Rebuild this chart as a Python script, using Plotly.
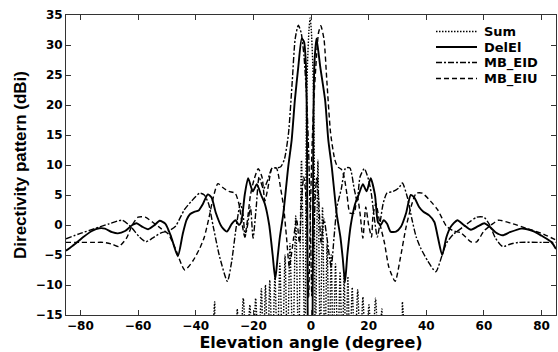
import plotly.graph_objects as go

# ---- Sum pattern (dotted) ----
sum_deg = [-34.3, -33.4, -32.5,
           -26.6, -25.6, -24.6, -23.5, -22.3, -21.2, -20.2, -19.2, -18.2, -17.2,
           -16.5, -15.8, -15.0, -14.3, -13.4, -12.5, -11.7, -10.8, -9.9, -9.0,
           -8.2, -7.3, -6.3, -5.3, -4.3, -3.3, -2.1, -1.6, -1.2, -0.7, -0.3,
           0.1, 0.6, 1.0, 1.5, 2.4, 3.2, 4.0, 4.8, 5.6, 6.3, 7.0, 7.7, 8.5,
           9.3, 10.1, 10.8, 11.5, 12.1, 12.8, 13.5, 14.3, 15.2, 16.2, 17.1,
           18.0, 19.0, 20.1, 21.2, 22.4, 23.5, 24.6, 25.6,
           30.8, 31.7, 32.6]
sum_db = [-22, -12.8, -22,
          -22, -14.0, -22, -12.2, -22, -13.3, -22, -12.2, -22, -10.6,
          -22, -10.0, -22, -9.2, -22, -8.3, -22, -6.4, -22, -5.0,
          -22, -3.1, -22, 1.5, -22, 10.8, -22, 18.0, 27.0, 32.5, 34.5,
          32.5, 27.0, 18.0, -22, 10.8, -22, 3.0, -22, -3.1, -22, -5.0, -22, -6.5,
          -22, -7.8, -22, -8.3, -22, -8.6, -22, -10.4, -22, -10.8, -22,
          -12.0, -22, -13.3, -22, -12.2, -22, -14.0, -22,
          -22, -12.8, -22]

# ---- Difference pattern DelEl (solid) ----
del_deg = [-85, -82, -79, -76, -73.5, -71.5, -69, -67, -64.5, -62, -60.5, -58.5,
           -56.5, -54.5, -52.5, -50.5, -48.5, -46.2, -44.5, -43.2, -42, -40.5,
           -39, -37.5, -35.8, -34.5, -33, -31, -29.2, -27.5, -26.2, -25, -24.2,
           -23, -21.8, -20.2, -18.8, -17.3, -16, -14.5, -13.3, -12.4, -11.6,
           -10.8, -9.6, -7.9, -6.7, -5.6, -4.4, -3.2, -2.4, -1.8, -1.45, -1.3,
           -1.15, -0.9,
           0.3, 0.55, 0.7, 0.85, 1.2, 1.9, 3.2, 4.9, 6.0, 7.2, 8.9, 10.2, 11.0,
           11.8, 12.6, 13.8, 15.3, 16.5, 18.0, 19.3, 20.7, 22.2, 23.2, 24.2,
           25.2, 26.4, 27.6, 29.5, 31.2, 33.0, 34.6, 35.8, 37.5, 39.0, 41.0,
           42.8, 44.0, 45.5, 47.0, 48.5, 50.8, 53.0, 55.5, 58.0, 60.1, 62.0,
           64.0, 66.5, 69.0, 72.9, 75.0, 77.5, 80.0, 83.3, 85]
del_db = [-4.3, -3.2, -2.0, -1.0, -0.55, -0.6, -1.2, -1.4, -1.0, 0.0, 0.3, -0.3,
          -0.7, -0.1, 0.7, 0.2, -2.0, -5.2, -1.5, 0.8, 1.8, 2.2,
          2.4, 3.5, 5.1, 4.6, 2.0, -0.3, -1.1, 0.2, 0.8, 0.0, 0.5,
          5.0, 7.8, 5.6, 6.8, 5.0, 3.5, 0.0, -5.0, -9.0, -5.5,
          -2.0, 1.9, 9.7, 14.2, 20.8, 26.4, 31.1, 30.5, 27.0, 18.0, 4.0,
          -15.0, -25.0,
          -25.0, -15.0, 4.0, 18.0, 27.0, 31.1, 26.4, 20.8, 14.2, 9.7, 1.9, -2.0, -5.5,
          -9.5, -5.0, 0.0, 3.5, 5.0, 6.8, 5.6, 7.8, 5.0, 0.5, 0.0,
          0.8, 0.2, -1.1, -1.1, -0.3, 2.0, 5.0, 4.6, 3.0, 2.2, 1.6,
          0.5, -2.0, -5.0, -2.0, -0.3, 0.8, 0.0, -0.8, -0.2, 0.3, -0.3,
          -1.2, -1.7, -1.2, -0.6, -0.7, -1.1, -1.8, -2.8, -4.0]

# ---- Multi-beam, downward beam MB_EID (dash-dot) ----
eid_deg = [-85, -80, -75, -70, -65.5, -62.5, -59.5, -57.3, -55, -52, -49.5, -47,
           -44, -41.6, -38.6, -37, -35.5, -33.9, -31.7, -29.0, -27.5, -26,
           -24.5, -23.5, -22.9, -22, -21, -20.1, -19, -18, -16.5, -15, -13.5,
           -12, -10.5, -9.2, -7.8, -6.5, -5.5, -4.4, -3.4, -2.4, -1.5, -0.8,
           -0.2, 0.3, 0.8, 1.5, 2.0, 2.6, 3.5, 4.5, 5.5, 7.0, 8.0, 9.0, 10.5,
           12.0, 13.5, 15.0, 16.0, 17.0, 18.5, 20.0, 21.0, 22.0, 23.0, 24.0,
           25.0, 26.3, 28.5, 30.5, 31.7, 33.5, 35.0, 36.5, 38.0, 40.5, 43.3,
           45.5, 47.0, 49.5, 52.0, 55.0, 57.5, 60.0, 62.0, 64.0, 66.5, 69.0,
           72.0, 80.0, 85.0]
eid_db = [-2.3, -1.4, -0.6, 0.2, 0.8, -0.3, -2.0, -2.8, -2.2, -1.3, -1.0, -0.2,
          2.5, 3.9, 5.3, 5.0, 3.5, -0.3, -5.3, -9.4, -6.0, -0.5,
          3.6, 1.5, -2.0, 0.0, 3.0, -2.2, 3.0, 8.0, 6.0, 7.5, 9.5,
          9.5, 9.7, 11.0, 15.3, 24.0, 31.0, 33.3, 32.0, 28.0, 21.0, 12.0,
          0.0, -12.0, -5.0, 5.0, 8.0, 5.0, -3.0, 1.0, -2.0, -7.0, -2.0, 3.0, 6.0,
          9.5, 9.5, 6.0, 4.0, 8.0, 9.4, 7.5, 5.0, 1.0, -2.0, 0.5,
          3.5, 5.3, 5.6, 6.2, 7.0, 4.5, 1.0, -2.0, -3.8, -6.0, -7.8,
          -5.0, -3.0, -1.5, -0.6, 0.5, 1.3, 1.3, 0.0, -2.2, -3.6, -3.2,
          -2.9, -2.9, -2.9]

# ---- Multi-beam, upward beam MB_EIU (dashed) ----
eiu_deg = [-85, -80, -75, -72, -69, -66.7, -64, -62, -60, -57.5, -55, -52,
           -49.5, -47, -43.8, -41, -38.5, -37, -35.5, -33.8, -32.3, -30.5,
           -28.5, -26.3, -25, -24, -23, -22, -21, -19.8, -18.3, -17, -16, -15,
           -13.5, -12, -10.5, -9.5, -8.5, -7.5, -6, -5, -4, -3.2, -2.5, -1.8,
           -1.2, -0.8, -0.3, 0.3, 1.0, 1.9, 2.6, 3.4, 4.5, 5.5, 6.8, 8.2, 9.2,
           10.5, 11.5, 12.5, 13.5, 15, 16, 17, 18, 19, 20, 21, 21.5, 22.5, 24,
           25.5, 27, 29.2, 31, 33, 35, 36.5, 38.6, 41.6, 44, 47, 49.5, 52,
           55.5, 57.5, 60, 62.5, 65, 70, 75, 80, 85]
eiu_db = [-2.9, -2.9, -2.9, -2.9, -3.2, -3.6, -2.2, 0.0, 1.3, 1.3, 0.5, -0.6,
          -1.5, -4.0, -7.5, -6.0, -3.8, -2.0, 1.0, 4.8, 6.9, 6.2,
          5.6, 5.3, 3.5, 0.5, -2.0, 1.0, 5.0, 7.5, 9.4, 8.0, 4.0, 6.0,
          9.5, 9.5, 6.0, 3.0, -2.0, -7.0, -2.0, 1.0, -3.0, 5.0, 8.0, 5.0,
          -5.0, -12.0, 0.0, 12.0, 21.0, 28.0, 32.0, 33.2, 31.0, 24.0, 15.3, 11.0, 9.7,
          9.3, 8.0, 5.0, 2.0, 2.0, 5.0, 2.0, -2.2, 3.0, 0.0, -2.0, 1.5, 3.6, 0.0,
          -3.0, -7.0, -9.4, -5.5, -0.3, 3.5, 5.3, 5.3, 3.9, 2.5, -0.2, -1.0, -1.3,
          -2.8, -2.8, -1.0, 0.0, 0.8, 0.2, -0.6, -1.4, -2.5]

x_ticks = [-80, -60, -40, -20, 0, 20, 40, 60, 80]
y_ticks = [-15, -10, -5, 0, 5, 10, 15, 20, 25, 30, 35]

DOT = "1.5px,1.5px"
DASH = "5px,3px"
DASHDOT = "6px,2px,2px,2px"

fig = go.Figure()
series = [
    ("Sum", sum_deg, sum_db, DOT, 1.4),
    ("DelEl", del_deg, del_db, "solid", 1.9),
    ("MB_EID", eid_deg, eid_db, DASHDOT, 1.4),
    ("MB_EIU", eiu_deg, eiu_db, DASH, 1.4),
]
for name, xs, ys, dash, w in series:
    fig.add_trace(go.Scatter(
        x=xs, y=ys, name=name, mode="lines", showlegend=False,
        line=dict(color="black", width=w, dash=dash, shape="spline", smoothing=0.6),
    ))

# legend drawn as a small key in the upper right corner
key_y = [31.5, 47, 62.5, 78.5]
for (name, _, _, dash, w), yy in zip(series, key_y):
    fig.add_shape(type="line", xref="paper", yref="paper",
                  x0=(436 - 66) / 490, x1=(477 - 66) / 490,
                  y0=1 - (yy - 15) / 300, y1=1 - (yy - 15) / 300,
                  line=dict(color="black", width=w, dash=dash))
    fig.add_annotation(text=name, xref="paper", yref="paper",
                       x=(482 - 66) / 490, y=1 - (yy - 15) / 300,
                       xanchor="left", yanchor="middle", showarrow=False,
                       font=dict(family="DejaVu Sans", size=13, color="black",
                                 weight="bold"))

tick_font = dict(family="DejaVu Sans", size=12, color="black", weight="bold")
fig.update_xaxes(
    range=[-85, 85], tickvals=x_ticks, ticks="inside", ticklen=5, tickcolor="#333",
    showline=True, linecolor="#333", linewidth=1, mirror="ticks", showgrid=False,
    zeroline=False, tickfont=tick_font,
    title=dict(text="Elevation angle (degree)", standoff=3,
               font=dict(family="DejaVu Sans", size=16, color="black", weight="bold")),
)
fig.update_yaxes(
    range=[-15, 35], tickvals=y_ticks, ticks="inside", ticklen=5, tickcolor="#333",
    showline=True, linecolor="#333", linewidth=1, mirror="ticks", showgrid=False,
    zeroline=False, tickfont=tick_font,
    title=dict(text="Directivity pattern (dBi)", standoff=4,
               font=dict(family="Liberation Sans", size=17, color="black", weight="bold")),
)
fig.update_layout(
    width=558, height=352,
    margin=dict(l=66, r=2, t=15, b=37),
    paper_bgcolor="white", plot_bgcolor="white",
    showlegend=False,
)
fig.write_html("out.html")
